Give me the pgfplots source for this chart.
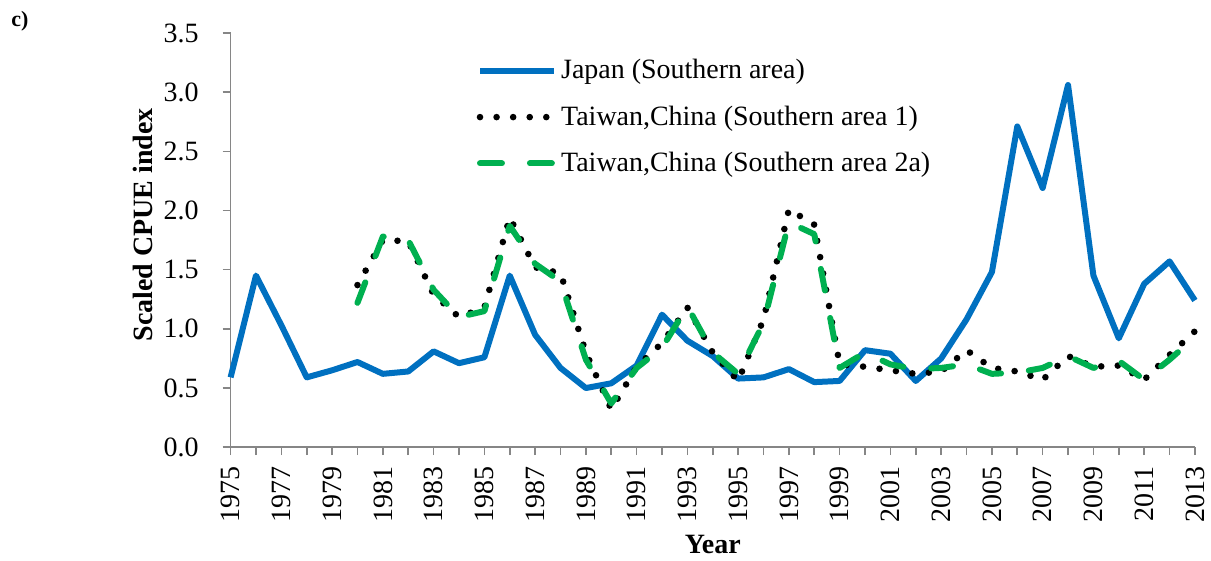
\documentclass[border=0pt]{standalone}
\usepackage{pgfplots}
\pgfplotsset{compat=1.18}
\usepackage{fontspec}
\setmainfont{Liberation Serif}

\definecolor{jpblue}{HTML}{0070C0}
\definecolor{twgreen}{HTML}{00B050}
\definecolor{axgray}{HTML}{868686}

\begin{document}
\begin{tikzpicture}[font=\fontsize{14}{17}\selectfont]
\begin{axis}[
    scale only axis,
    width=483pt, height=207.5pt,
    xmin=1975, xmax=2013,
    ymin=0, ymax=3.5,
    axis x line=bottom, axis y line=left,
    axis line style={-, axgray, line width=0.8pt},
    tick style={axgray, line width=0.8pt},
    tick align=outside,
    major tick length=4pt, minor tick length=4pt,
    xtick={1975,1977,...,2013},
    minor xtick={1976,1978,...,2012},
    ytick={0,0.5,...,3.5},
    xticklabel style={rotate=90, anchor=east, /pgf/number format/1000 sep={}},
    yticklabel style={/pgf/number format/.cd, fixed, fixed zerofill, precision=1},
    xticklabel shift=2pt,
    yticklabel shift=8.5pt,
    /pgf/number format/assume math mode=true,
    xlabel={\textbf{Year}},
    ylabel={\textbf{Scaled CPUE index}},
    xlabel style={at={(axis description cs:0.5,-0.234)}, anchor=center},
    ylabel style={at={(axis description cs:-0.091,0.537)}, anchor=center},
    clip=false,
    legend cell align=left,
    legend style={draw=none, fill=none, at={(axis description cs:0.2486,0.956)},
        anchor=north west, row sep=8pt},
    legend image code/.code={\draw[#1] (0pt,0pt) -- (37pt,0pt);},
]
\addplot[jpblue, line width=3pt, line join=round] coordinates {
(1975,0.59) (1976,1.45) (1977,1.03) (1978,0.59) (1979,0.65) (1980,0.72)
(1981,0.62) (1982,0.64) (1983,0.81) (1984,0.71) (1985,0.76) (1986,1.45)
(1987,0.95) (1988,0.67) (1989,0.50) (1990,0.54) (1991,0.69) (1992,1.12)
(1993,0.90) (1994,0.77) (1995,0.58) (1996,0.59) (1997,0.66) (1998,0.55)
(1999,0.56) (2000,0.82) (2001,0.79) (2002,0.56) (2003,0.75) (2004,1.08)
(2005,1.48) (2006,2.71) (2007,2.19) (2008,3.06) (2009,1.45) (2010,0.92)
(2011,1.38) (2012,1.57) (2013,1.24)};
\addlegendentry{Japan (Southern area)}
\addplot[black, line width=3.3pt, line cap=round, dash pattern=on 0pt off 8.3pt] coordinates {
(1980,1.37) (1981,1.75) (1982,1.74) (1983,1.29) (1984,1.10) (1985,1.18)
(1986,1.94) (1987,1.52) (1988,1.47) (1989,0.80) (1990,0.32) (1991,0.68)
(1992,0.88) (1993,1.18) (1994,0.80) (1995,0.56) (1996,1.08) (1997,2.01)
(1998,1.88) (1999,0.70) (2000,0.68) (2001,0.65) (2002,0.62) (2003,0.64)
(2004,0.82) (2005,0.67) (2006,0.64) (2007,0.57) (2008,0.77) (2009,0.68)
(2010,0.69) (2011,0.57) (2012,0.78) (2013,0.98)};
\addlegendentry{Taiwan,China (Southern area 1)}
\addplot[twgreen, line width=3pt, line cap=round, line join=round, dash pattern=on 11pt off 14pt] coordinates {
(1980,1.22) (1981,1.78) (1982,1.75) (1983,1.33) (1984,1.10) (1985,1.15)
(1986,1.87) (1987,1.55) (1988,1.40) (1989,0.74) (1990,0.37) (1991,0.67)
(1992,0.84) (1993,1.19) (1994,0.80) (1995,0.62) (1996,1.05) (1997,1.90)
(1998,1.80) (1999,0.67) (2000,0.80) (2001,0.70) (2002,0.66) (2003,0.67)
(2004,0.70) (2005,0.62) (2006,0.63) (2007,0.67) (2008,0.77) (2009,0.67)
(2010,0.73) (2011,0.57) (2012,0.74) (2013,0.93)};
\addlegendentry{Taiwan,China (Southern area 2a)}
\node[font=\fontsize{11}{13}\selectfont\bfseries, anchor=center] at ([xshift=-105.5pt, yshift=6pt]rel axis cs:0,1) {c)};
\path ([xshift=-115.5pt, yshift=16.5pt]rel axis cs:0,1) -- ([xshift=7pt, yshift=-54.5pt]rel axis cs:1,0);
\end{axis}
\end{tikzpicture}
\end{document}
